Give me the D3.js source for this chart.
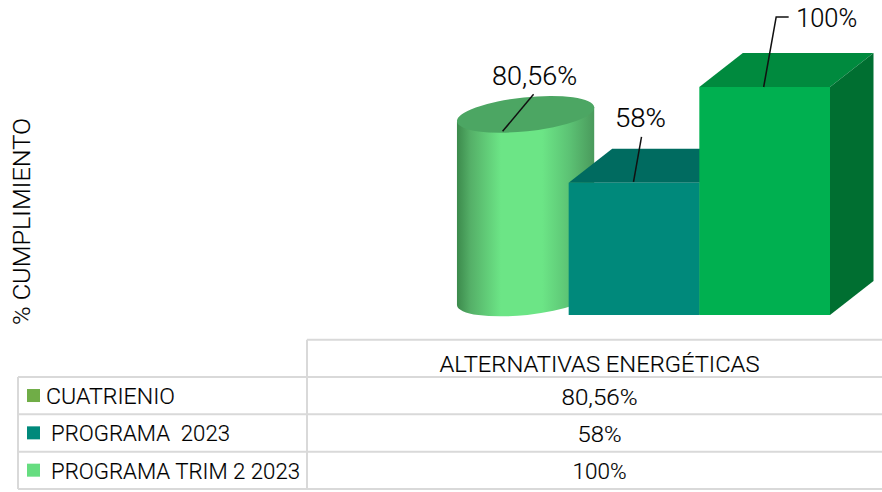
<!DOCTYPE html>
<html><head><meta charset="utf-8">
<script src="https://cdn.jsdelivr.net/npm/d3@7"></script>
<style>html,body{margin:0;background:#fff}svg{display:block}text{font-family:Roboto,sans-serif;font-weight:300;fill:#000;stroke:#000;stroke-width:0.15px}</style>
</head><body><svg id="c" width="882" height="492"></svg>
<script>
const categories = ["CUATRIENIO", "PROGRAMA  2023", "PROGRAMA TRIM 2 2023"];
const values = [80.56, 58, 100];
const valueLabels = ["80,56%", "58%", "100%"];
const column = "ALTERNATIVAS ENERGÉTICAS";
const axisTitle = "% CUMPLIMIENTO";
const swatchColors = ["#70ad47", "#00897b", "#66dd80"];
const faceColors = [null, "#00897b", "#00b050"];
const topColors = ["#4ca663", "#006b60", "#008a3e"];
const sideColors = [null, "#006b60", "#006f31"];

const svg = d3.select("#c");
const y = d3.scaleLinear().domain([0, 100]).range([315, 87]);
const x = d3.scaleBand().domain(categories).range([438, 830]);
const dx = 43.5, dy = -34;

const defs = svg.append("defs");
const grad = defs.append("linearGradient").attr("id", "cyl");
[[0, "#3c8a4c"], [0.1, "#55b068"], [0.32, "#6ce586"], [0.62, "#6ce586"], [0.82, "#5cc274"], [1, "#4a9a5c"]]
  .forEach(s => grad.append("stop").attr("offset", s[0]).attr("stop-color", s[1]));

// cylinder (first series)
const cx = x(categories[0]) + x.bandwidth() / 2 + dx / 2 + 0.5;
const rx = 69, ry = 17, tilt = -6;
const yb = y(0) + dy / 2;
const yt = y(values[0]) + dy / 2;
const a = tilt * Math.PI / 180;
const ox = rx * Math.cos(a), oy = rx * Math.sin(a);
svg.append("path")
  .attr("d", `M${cx - ox},${yt - oy}L${cx - ox},${yb - oy}A${rx},${ry} ${tilt} 0 0 ${cx + ox},${yb + oy}L${cx + ox},${yt + oy}Z`)
  .attr("fill", "url(#cyl)");
svg.append("ellipse").attr("cx", cx).attr("cy", yt).attr("rx", rx).attr("ry", ry)
  .attr("transform", `rotate(${tilt} ${cx} ${yt})`).attr("fill", topColors[0]);

// boxes
[1, 2].forEach(i => {
  const x0 = x(categories[i]), x1 = x0 + x.bandwidth(), yy = y(values[i]), y0 = y(0);
  svg.append("path").attr("d", `M${x0},${yy}L${x0 + dx},${yy + dy}L${x1 + dx},${yy + dy}L${x1},${yy}Z`).attr("fill", topColors[i]);
  svg.append("path").attr("d", `M${x1},${yy}L${x1 + dx},${yy + dy}L${x1 + dx},${y0 + dy}L${x1},${y0}Z`).attr("fill", sideColors[i]);
  svg.append("rect").attr("x", x0).attr("y", yy).attr("width", x.bandwidth()).attr("height", y0 - yy).attr("fill", faceColors[i]);
});

// value labels + leaders
const mid = i => x(categories[i]) + x.bandwidth() / 2;
const leaders = [
  [[cx - 23, yt + 17], [cx + 8, yt - 20]],
  [[mid(1) - 0.5, y(values[1]) - 1], [mid(1) + 7.5, y(values[1]) - 46]],
  [[mid(2) - 1, y(values[2])], [mid(2) + 11.5, y(values[2]) - 70], [mid(2) + 24, y(values[2]) - 70]]
];
const line = d3.line();
leaders.forEach(p => svg.append("path").attr("d", line(p)).attr("fill", "none").attr("stroke", "#111").attr("stroke-width", 1.5));
function lab(t, xx, yy, w, size) {
  return svg.append("text").attr("x", xx).attr("y", yy).attr("font-size", size).attr("text-anchor", "middle")
    .attr("textLength", w).attr("lengthAdjust", "spacingAndGlyphs").style("white-space", "pre").text(t);
}
lab(valueLabels[0], cx + 9, yt - 29, 85, 25);
lab(valueLabels[1], mid(1) + 6.5, y(values[1]) - 56, 51, 25);
lab(valueLabels[2], mid(2) + 62, y(values[2]) - 60, 61, 25);

// axis title
svg.append("text").attr("transform", "translate(30,221.5) rotate(-90)").attr("font-size", 24).attr("text-anchor", "middle")
  .attr("textLength", 207).attr("lengthAdjust", "spacingAndGlyphs").text(axisTitle);

// data table
const rowY = d3.scalePoint().domain(["head", ...categories, "end"]).range([377 - 37.3, 489]);
const gc = "#d9d9d9";
const rule = (a, b, c, d) => svg.append("line").attr("x1", a).attr("y1", b).attr("x2", c).attr("y2", d).attr("stroke", gc).attr("stroke-width", 2);
const yLines = rowY.domain().map(rowY);
yLines.forEach((v, i) => rule(i === 0 ? 307 : 18, v, 882, v));
rule(18, yLines[1], 18, 489);
rule(307, yLines[0], 307, 489);
lab(column, 599.5, yLines[1] - 5, 320, 22);
const legendW = [129, 179, 249], legendX = [46, 51, 51];
categories.forEach((c, i) => {
  const top = yLines[i + 1];
  svg.append("rect").attr("x", 27).attr("y", top + 12).attr("width", 13).attr("height", 13).attr("fill", swatchColors[i]);
  svg.append("text").attr("x", legendX[i]).attr("y", top + 27).attr("font-size", 22)
    .attr("textLength", legendW[i]).attr("lengthAdjust", "spacingAndGlyphs").style("white-space", "pre").text(c);
  lab(valueLabels[i], 599.5, top + 27.5, [76, 44, 54][i], 22);
});
</script></body></html>
